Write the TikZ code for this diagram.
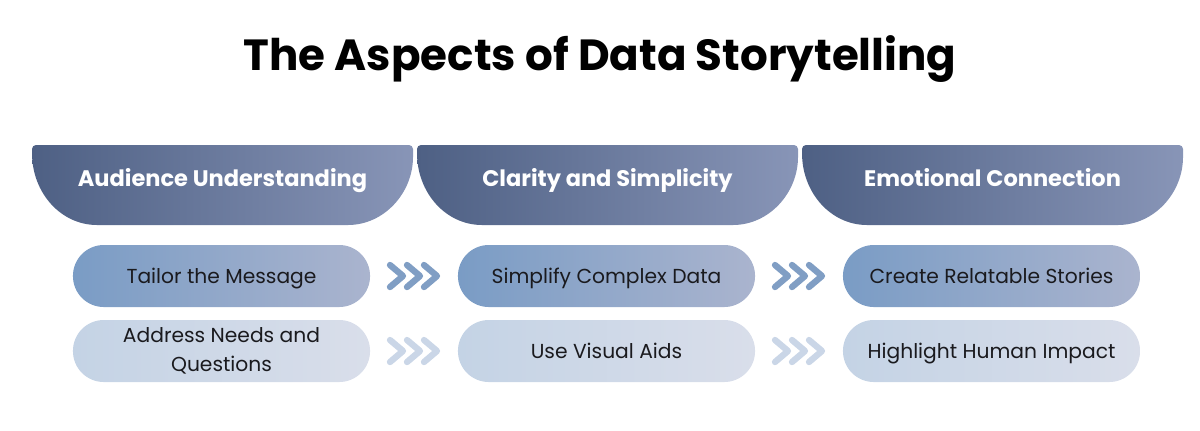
\documentclass[tikz,border=0pt]{standalone}
\usepackage{fontspec}
\setmainfont{Poppins}
\usetikzlibrary{calc}
\definecolor{hdleft}{RGB}{78,96,132}
\definecolor{hdright}{RGB}{136,149,183}
\definecolor{onleft}{RGB}{122,156,197}
\definecolor{onright}{RGB}{170,180,206}
\definecolor{twoleft}{RGB}{196,211,229}
\definecolor{tworight}{RGB}{217,222,234}
\definecolor{chevone}{RGB}{128,158,196}
\definecolor{chevtwo}{RGB}{202,214,231}
\definecolor{inktext}{RGB}{26,26,30}
\newcommand\hdband[1]{\shade[left color=hdleft,right color=hdright] (#1,153) [rounded corners=0.1cm] -- (#1,145) -- (#1+381,145) -- (#1+381,153) [sharp corners] .. controls (#1+381,193) and (#1+352,225) .. (#1+316,225) -- (#1+65,225) .. controls (#1+29,225) and (#1,193) .. (#1,153) -- cycle;}
\newcommand\chevs[3]{\foreach \i in {0,1,2} \draw[chev,draw=#3] ($($(#1.east)!.5!(#2.west)$)+(\i*17-24,-11)$) -- ++(13,11) -- ++(-13,11);}

\begin{document}
\begin{tikzpicture}[x=0.025cm,y=-0.025cm,pill/.style={rounded corners=0.77cm,minimum width=7.425cm,minimum height=1.55cm,align=center,inner sep=2pt,font=\fontsize{14.4}{20.5}\selectfont,text=inktext},one/.style={pill,text depth=0pt,left color=onleft,right color=onright},two/.style={pill,text depth=0pt,left color=twoleft,right color=tworight},hd/.style={anchor=base,text=white,font=\fontsize{16}{20}\selectfont\bfseries},chev/.style={line width=4.5pt,line cap=round,line join=round}]
\useasboundingbox (0,0) rectangle (1200,430);

\node[anchor=base,font=\fontsize{31}{36}\selectfont\bfseries] (title) at(600,70) {The Aspects of Data Storytelling};

\hdband{32}\hdband{417}\hdband{802}
\node[hd] (h1) at(222.5,186) {Audience Understanding};
\node[hd] (h2) at(607.5,186) {Clarity and Simplicity};
\node[hd] (h3) at(992.5,186) {Emotional Connection};

\node[one] (a1) at(221.5,276) {Tailor the Message};
\node[one] (a2) at(606.5,276) {Simplify Complex Data};
\node[one] (a3) at(991.5,276) {Create Relatable Stories};
\node[pill,left color=twoleft,right color=tworight] (b1) at(221.5,351) {Address Needs and\\Questions};
\node[two] (b2) at(606.5,351) {Use Visual Aids};
\node[two] (b3) at(991.5,351) {Highlight Human Impact};

\chevs{a1}{a2}{chevone}\chevs{a2}{a3}{chevone}
\chevs{b1}{b2}{chevtwo}\chevs{b2}{b3}{chevtwo}
\end{tikzpicture}
\end{document}
